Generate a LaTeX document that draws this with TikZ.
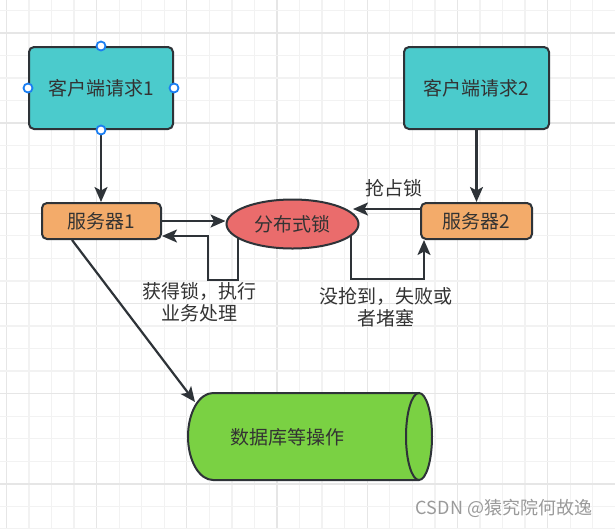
\documentclass[tikz,border=0pt]{standalone}
\usepackage{fontspec}
\setmainfont{Noto Sans CJK SC}
\usetikzlibrary{shapes.geometric,arrows.meta,calc}
\pgfdeclarelayer{bg}
\pgfsetlayers{bg,main}
\definecolor{tealc}{HTML}{4BCBCC}
\definecolor{orangec}{HTML}{F3AB6A}
\definecolor{redc}{HTML}{EA6C6C}
\definecolor{greenc}{HTML}{7AD143}
\definecolor{strokec}{HTML}{2E3338}
\definecolor{txtc}{HTML}{333333}
\definecolor{gridminor}{HTML}{F2F2F2}
\definecolor{gridmajor}{HTML}{E6E6E6}
\definecolor{handlec}{HTML}{1A7EF2}
\definecolor{wmc}{HTML}{9A9A9A}
\tikzset{
  box/.style={draw=strokec, line width=2pt, rounded corners=5pt, text=txtc,
    font=\fontsize{19}{22}\selectfont, inner sep=0pt},
  lockshape/.style={ellipse, draw=strokec, line width=2pt, fill=redc, text=txtc,
    font=\fontsize{19}{22}\selectfont, inner sep=0pt, minimum width=132pt, minimum height=49pt},
  arr/.style={draw=strokec, line width=2.2pt, -{Stealth[length=15pt,width=13pt,inset=3.5pt]}},
  lbl/.style={text=txtc, font=\fontsize{19}{22}\selectfont, align=center, inner sep=0pt},
  handle/.style={draw=handlec, fill=white, line width=1.8pt},
}
\begin{document}
\begin{tikzpicture}[x=1pt,y=-1pt]
\useasboundingbox (0,0) rectangle (615,528);
\begin{pgfonlayer}{bg}
\fill[white] (0,0) rectangle (615,528);
\foreach \k in {0,...,27}{
  \pgfmathtruncatemacro{\m}{mod(\k,4)}
  \ifnum\m=0
    \draw[gridmajor, line width=1.3pt] ({6.4+22.55*\k},0) -- ({6.4+22.55*\k},528);
  \else
    \draw[gridminor, line width=1.3pt] ({6.4+22.55*\k},0) -- ({6.4+22.55*\k},528);
  \fi
}
\foreach \k in {0,...,23}{
  \pgfmathtruncatemacro{\m}{mod(\k+3,4)}
  \ifnum\m=0
    \draw[gridmajor, line width=1.3pt] (0,{10.3+22.55*\k}) -- (615,{10.3+22.55*\k});
  \else
    \draw[gridminor, line width=1.3pt] (0,{10.3+22.55*\k}) -- (615,{10.3+22.55*\k});
  \fi
}
\end{pgfonlayer}

% nodes
\node[box, fill=tealc, minimum width=144pt, minimum height=82pt] (c1) at (101,88) {客户端请求1};
\node[box, fill=tealc, minimum width=145pt, minimum height=82pt] (c2) at (476.5,88) {客户端请求2};
\node[box, fill=orangec, minimum width=119pt, minimum height=36pt] (s1) at (101.5,221) {服务器1};
\node[box, fill=orangec, minimum width=111pt, minimum height=36pt] (s2) at (476.5,221) {服务器2};
\node[lockshape] (lock) at (292.5,224) {分布式锁};

% database cylinder
\fill[greenc] (213,393) -- (419,393) arc[start angle=90, end angle=-90, x radius=13pt, y radius=43.5pt]
  -- (213,480) arc[start angle=270, end angle=90, x radius=25pt, y radius=43.5pt] -- cycle;
\draw[strokec, line width=2pt] (419,393) -- (213,393) arc[start angle=90, end angle=270, x radius=25pt, y radius=43.5pt] -- (419,480);
\draw[strokec, line width=2pt] (419,436.5) ellipse[x radius=13pt, y radius=43.5pt];
\node[lbl] (db) at (287,437) {数据库等操作};

% helper coordinates
\coordinate (la) at (238,232);
\coordinate (lb) at (208,236);
\coordinate (lc) at (351,232);
\coordinate (ra) at ($(s2.west)+(0,-12)$);
\coordinate (rt) at (353,209);
\coordinate (rb) at ($(s2.south west)+(4,0)$);
\coordinate (sa) at ($(s1.south west)+(31,0)$);
\coordinate (dbt) at (195,402);

% connectors
\draw[arr] (c1.south) -- (c1.south |- s1.north);
\draw[arr] (c2.south) -- (s2.north);
\draw[arr] (s1.east) -- (s1.east -| lock.west);
\draw[arr] (ra) -- (rt);
\draw[arr] (sa) -- (dbt);
\begin{pgfonlayer}{bg}
\draw[arr] (la) -- ++(0,48) -| (lb) -- (lb -| s1.east);
\draw[arr] (lc) -- ++(0,47) -| (rb);
\end{pgfonlayer}

% labels
\node[lbl] (t1) at (199,302.5) {获得锁，执行\\业务处理};
\node[lbl] (t2) at (386,307) {没抢到，失败或\\者堵塞};
\node[lbl] (t3) at (394,188) {抢占锁};

% handles
\foreach \a in {north,south,east,west}
  \draw[handle] (c1.\a) circle[radius=4.5pt];

% watermark
\node[text=wmc, font=\fontsize{18}{20}\selectfont, inner sep=0pt] (wm) at (504,508) {CSDN @猿究院何故逸};
\end{tikzpicture}
\end{document}
